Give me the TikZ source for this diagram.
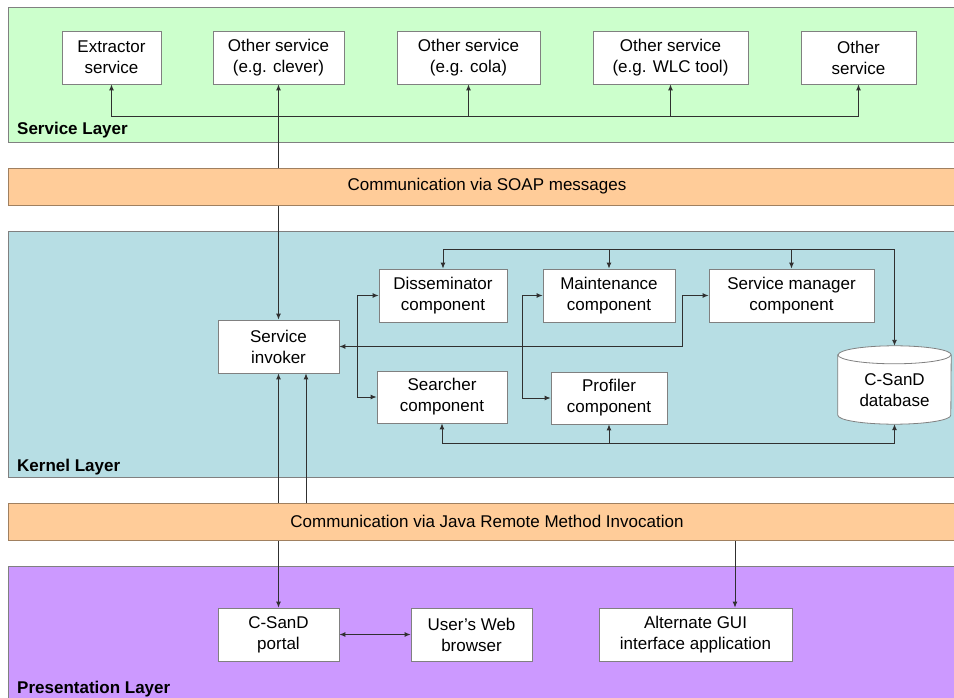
\documentclass[tikz,border=0pt]{standalone}
\usepackage{fontspec}
\setmainfont{Liberation Sans}
\usetikzlibrary{arrows.meta}
\pgfdeclarelayer{fg}
\pgfsetlayers{main,fg}
\definecolor{svcgreen}{HTML}{CCFFCC}
\definecolor{kerblue}{HTML}{B7DEE4}
\definecolor{bandorange}{HTML}{FFCC99}
\definecolor{prespurple}{HTML}{CC99FF}
\definecolor{bandedge}{HTML}{A08060}
\definecolor{layeredge}{HTML}{808080}
\definecolor{lineclr}{HTML}{303030}
\begin{document}
\begin{tikzpicture}[x=1pt,y=-1pt,
  every node/.style={font=\fontsize{17}{21}\selectfont, inner sep=0pt},
  box/.style={draw=layeredge, line width=0.8pt, fill=white, align=center, minimum height=53pt},
  band/.style={draw=bandedge, line width=0.9pt, fill=bandorange, minimum width=958pt, minimum height=37pt},
  layer/.style={draw=layeredge, line width=0.8pt},
  layerlabel/.style={anchor=west, font=\fontsize{17}{21}\selectfont\bfseries},
  conn/.style={draw=lineclr, line width=0.9pt},
  arr/.style={conn, -{Latex[length=6pt,width=5pt]}},
  darr/.style={conn, {Latex[length=6pt,width=5pt]}-{Latex[length=6pt,width=5pt]}}
]
\clip (0,0) rectangle (954,698);
\fill[white] (0,0) rectangle (954,698);

% layers
\draw[layer, fill=svcgreen] (8,7) rectangle (970,142);
\draw[layer, fill=kerblue] (8,231) rectangle (970,477);
\draw[layer, fill=prespurple] (8,566) rectangle (970,720);

% bands (drawn on top of the connectors)
\begin{pgfonlayer}{fg}
\node[band] (soap) at (487,186.5) {Communication via SOAP messages};
\node[band] (rmi) at (487,521.5) {Communication via Java Remote Method Invocation};
\end{pgfonlayer}

% layer labels
\node[layerlabel] (svclabel) at (17,130) {Service Layer};
\node[layerlabel] (kerlabel) at (17,467) {Kernel Layer};
\node[layerlabel] (preslabel) at (17,689) {Presentation Layer};

% service layer
\node[box, minimum width=99pt] (ext) at (111.5,57.5) {Extractor\\service};
\node[box, minimum width=131pt] (clev) at (278.5,57.5) {Other service\\(e.g. clever)};
\node[box, minimum width=143pt] (cola) at (468.5,57.5) {Other service\\(e.g. cola)};
\node[box, minimum width=155pt] (wlc) at (670.5,57.5) {Other service\\(e.g. WLC tool)};
\node[box, minimum width=115pt] (oth) at (858.5,57.5) {Other\\service};

% kernel layer
\node[box, minimum width=121pt] (inv) at (278.5,346.5) {Service\\invoker};
\node[box, minimum width=128pt] (dis) at (443,295.5) {Disseminator\\component};
\node[box, minimum width=130pt, minimum height=52pt] (search) at (442,397) {Searcher\\component};
\node[box, minimum width=132pt] (maint) at (609,295.5) {Maintenance\\component};
\node[box, minimum width=116pt, minimum height=52pt] (prof) at (609,398) {Profiler\\component};
\node[box, minimum width=165pt] (mgr) at (791.5,295.5) {Service manager\\component};

% database cylinder
\node[minimum width=113pt, minimum height=78pt] (db) at (894.5,385) {};
\draw[layeredge, line width=0.8pt, fill=white]
  ([yshift=-9pt]db.north west) -- ([yshift=9pt]db.south west)
  arc[start angle=180, end angle=360, x radius=56.5pt, y radius=9pt]
  -- ([yshift=-9pt]db.north east)
  arc[start angle=0, end angle=180, x radius=56.5pt, y radius=9pt] -- cycle;
\draw[layeredge, line width=0.8pt]
  ([yshift=-9pt]db.north west) arc[start angle=180, end angle=360, x radius=56.5pt, y radius=9pt];
\node[align=center] (dbtext) at ([yshift=-5pt]db.center) {C-SanD\\database};

% presentation layer
\node[box, minimum width=121pt] (portal) at (278.5,634.5) {C-SanD\\portal};
\node[box, minimum width=121pt] (brow) at (471.5,634.5) {User{\char"0027}s Web\\browser};
\node[box, minimum width=193pt] (gui) at (695.5,634.5) {Alternate GUI\\interface application};

% helper coordinates
\coordinate (bus) at (0,116);
\coordinate (topbus) at (0,249);
\coordinate (botbus) at (0,443);
\coordinate (jog) at (682,0);
\coordinate (inv2) at ([xshift=27.5pt]inv.south);
\coordinate (guiin) at ([xshift=39.5pt]gui.north);

% service layer connectors
\draw[darr] (ext.south) -- (ext.south |- bus) -| (oth.south);
\draw[arr] (cola.south |- bus) -- (cola.south);
\draw[arr] (wlc.south |- bus) -- (wlc.south);
\draw[darr] (clev.south) -- (inv.north);

% kernel connectors
\draw[darr] (dis.north) -- (dis.north |- topbus) -| (db.north);
\draw[arr] (maint.north |- topbus) -- (maint.north);
\draw[arr] (mgr.north |- topbus) -- (mgr.north);
\draw[darr] (search.south) -- (search.south |- botbus) -| (db.south);
\draw[arr] (prof.south |- botbus) -- (prof.south);
\draw[darr] (dis.west) -- ++(-21,0) |- (search.west);
\draw[darr] (maint.west) -- ++(-20,0) |- (prof.west);
\draw[darr] (inv.east) -- (inv.east -| jog) |- (mgr.west);

% kernel <-> presentation
\draw[darr] (inv.south) -- (portal.north);
\draw[arr] (rmi.north -| inv2) -- (inv2);
\draw[arr] (rmi.south -| guiin) -- (guiin);
\draw[darr] (portal.east) -- (brow.west);
\end{tikzpicture}
\end{document}
